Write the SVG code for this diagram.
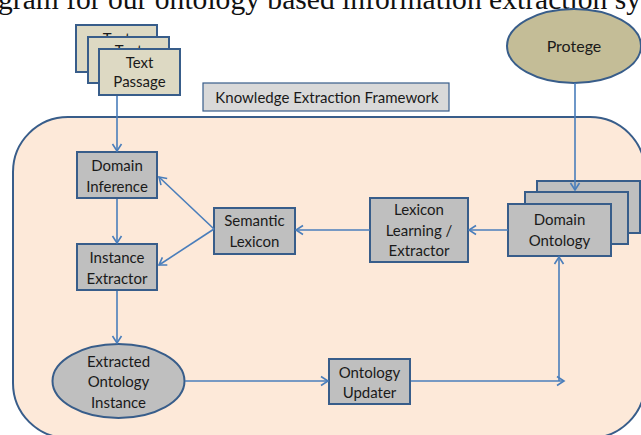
<svg xmlns="http://www.w3.org/2000/svg" width="641" height="435" viewBox="0 0 641 435">
<defs>
<style>
.node{fill:#bfbfbf;stroke:#385d8a;stroke-width:2}
.tan{fill:#ddd9c3;stroke:#385d8a;stroke-width:2}
.lbl{font-family:Lato,"Liberation Sans",sans-serif;font-size:15px;fill:#1a1a1a;text-anchor:middle}
.conn{stroke:#4a7ebb;stroke-width:1.6;fill:none}
</style>
<marker id="arr" markerUnits="userSpaceOnUse" markerWidth="12" markerHeight="12" refX="9" refY="6" orient="auto">
<path d="M2,1.5 L9,6 L2,10.5" fill="none" stroke="#4a7ebb" stroke-width="1.6"/>
</marker>
</defs>
<rect width="641" height="435" fill="#ffffff"/>
<text x="-2" y="9" font-family="'Liberation Serif',serif" font-size="29" fill="#111" textLength="643" lengthAdjust="spacingAndGlyphs">gram for our ontology based information extraction sy</text>

<g id="framework">
<rect x="13" y="117" width="632" height="321" rx="55" ry="55" fill="#fde9d9" stroke="#385d8a" stroke-width="2"/>
</g>
<g id="kef-label">
<rect x="203" y="83" width="246" height="28" fill="#d9d9d9" stroke="#385d8a" stroke-width="1.2"/>
<text class="lbl" x="327" y="103">Knowledge Extraction Framework</text>
</g>

<g id="text-passage">
<rect class="tan" x="76" y="25" width="81" height="47"/>
<text class="lbl" x="116.5" y="44">Text</text>
<rect class="tan" x="88" y="37" width="81" height="46"/>
<text class="lbl" x="128.5" y="56">Text</text>
<rect class="tan" x="99" y="49" width="81" height="46"/>
<text class="lbl" x="139.5" y="68">Text</text>
<text class="lbl" x="139.5" y="87">Passage</text>
</g>

<g id="protege">
<ellipse cx="574" cy="46" rx="67" ry="37" fill="#c4bd97" stroke="#385d8a" stroke-width="2"/>
<text class="lbl" x="574" y="52" style="font-size:16px">Protege</text>
</g>

<g id="domain-inference">
<rect class="node" x="77" y="152" width="80" height="46"/>
<text class="lbl" x="117" y="171">Domain</text>
<text class="lbl" x="117" y="192">Inference</text>
</g>

<g id="instance-extractor">
<rect class="node" x="77" y="244" width="80" height="46"/>
<text class="lbl" x="117" y="263">Instance</text>
<text class="lbl" x="117" y="284">Extractor</text>
</g>

<g id="semantic-lexicon">
<rect class="node" x="214" y="208" width="81" height="46"/>
<text class="lbl" x="254.5" y="226">Semantic</text>
<text class="lbl" x="254.5" y="247">Lexicon</text>
</g>

<g id="lexicon-learning">
<rect class="node" x="370" y="198" width="98" height="64"/>
<text class="lbl" x="419" y="215">Lexicon</text>
<text class="lbl" x="419" y="236">Learning /</text>
<text class="lbl" x="419" y="256">Extractor</text>
</g>

<g id="domain-ontology">
<rect class="node" x="537" y="181" width="103" height="52"/>
<rect class="node" x="525" y="192" width="103" height="52"/>
<rect class="node" x="508" y="204" width="103" height="52"/>
<text class="lbl" x="559.5" y="225">Domain</text>
<text class="lbl" x="559.5" y="246">Ontology</text>
</g>

<g id="extracted-instance">
<ellipse cx="118.5" cy="381" rx="66" ry="37" fill="#bfbfbf" stroke="#385d8a" stroke-width="2"/>
<text class="lbl" x="118.5" y="367">Extracted</text>
<text class="lbl" x="118.5" y="387">Ontology</text>
<text class="lbl" x="118.5" y="408">Instance</text>
</g>

<g id="ontology-updater">
<rect class="node" x="329" y="359" width="81" height="45"/>
<text class="lbl" x="369.5" y="378">Ontology</text>
<text class="lbl" x="369.5" y="398">Updater</text>
</g>

<g id="connectors">
<line class="conn" x1="117" y1="96" x2="117" y2="151" marker-end="url(#arr)"/>
<line class="conn" x1="575" y1="83" x2="575" y2="190" marker-end="url(#arr)"/>
<line class="conn" x1="117" y1="199" x2="117" y2="243" marker-end="url(#arr)"/>
<line class="conn" x1="214" y1="229" x2="159" y2="177" marker-end="url(#arr)"/>
<line class="conn" x1="214" y1="229" x2="159" y2="265" marker-end="url(#arr)"/>
<line class="conn" x1="370" y1="230" x2="296" y2="230" marker-end="url(#arr)"/>
<line class="conn" x1="508" y1="230" x2="469" y2="230" marker-end="url(#arr)"/>
<line class="conn" x1="117" y1="291" x2="117" y2="343" marker-end="url(#arr)"/>
<line class="conn" x1="185" y1="381" x2="328" y2="381" marker-end="url(#arr)"/>
<line class="conn" x1="411" y1="381" x2="564" y2="381" marker-end="url(#arr)"/>
<line class="conn" x1="559" y1="381" x2="559" y2="257" marker-end="url(#arr)"/>
</g>
</svg>
